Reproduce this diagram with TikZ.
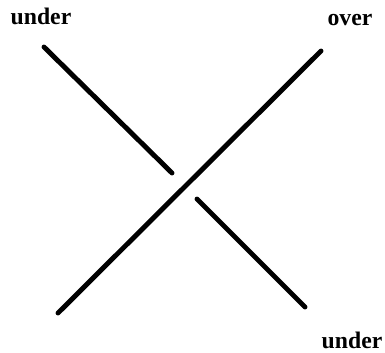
\documentclass[tikz,border=0pt]{standalone}
\usepackage{fontspec}
\setmainfont{Liberation Serif}
\usepackage{tikz}
\usetikzlibrary{positioning}

\begin{document}
\begin{tikzpicture}[
    x=0.02cm, y=-0.02cm,
    every node/.style={font=\fontsize{13.5}{15}\selectfont\bfseries},
    strand/.style={line width=2.8pt, line cap=round}
]
    \useasboundingbox (0,0) rectangle (385,352);

    % Strand ends
    \coordinate (ul1) at (44,47);
    \coordinate (ul2) at (172,173);
    \coordinate (ur1) at (197,199);
    \coordinate (ur2) at (305,307);
    \coordinate (o1) at (58,313);
    \coordinate (o2) at (321,51);

    % Crossing
    \draw[strand] (ul1) -- (ul2);
    \draw[strand] (ur1) -- (ur2);
    \draw[strand] (o1) -- (o2);

    % Labels
    \node (underTop) at (41,16) {under};
    \node (overTop) at (350,20) {over};
    \node (underBot) at (352,340) {under};
\end{tikzpicture}
\end{document}
